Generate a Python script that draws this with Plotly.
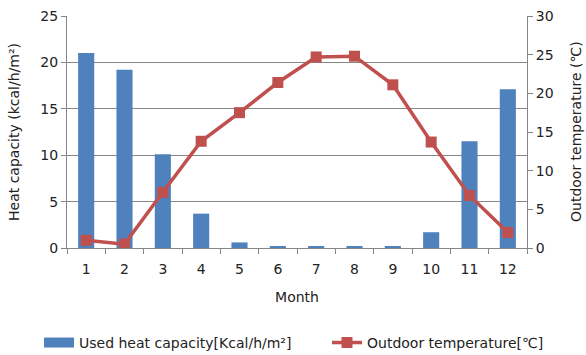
import plotly.graph_objects as go

months = ["1", "2", "3", "4", "5", "6", "7", "8", "9", "10", "11", "12"]
heat_capacity = [21.0, 19.2, 10.1, 3.7, 0.6, 0.15, 0.15, 0.15, 0.15, 1.7, 11.5, 17.1]
outdoor_temp = [1.0, 0.5, 7.2, 13.8, 17.5, 21.4, 24.7, 24.8, 21.1, 13.7, 6.8, 2.0]

left_ticks = [0, 5, 10, 15, 20, 25]
right_ticks = [0, 5, 10, 15, 20, 25, 30]

FONT = "DejaVu Sans"
FS = 14
GRAY = "#868686"
BLUE = "#4F81BD"
RED = "#C0504D"
BAR_LABEL = "Used heat capacity[Kcal/h/m²]"
LINE_LABEL = "Outdoor temperature[℃]"
LEFT_TITLE = "Heat capacity (kcal/h/m²)"
RIGHT_TITLE = "Outdoor temperature (℃)"

W, H = 586, 355

fig = go.Figure()
fig.add_trace(go.Bar(
    x=months, y=heat_capacity, name=BAR_LABEL,
    marker=dict(color=BLUE, line=dict(width=0)), width=0.42, yaxis="y",
    showlegend=False,
))
# wide swatch for the bar series key
fig.add_trace(go.Scatter(
    x=[None], y=[None], name=BAR_LABEL, mode="lines",
    line=dict(color=BLUE, width=14), legend="legend",
))
fig.add_trace(go.Scatter(
    x=months, y=outdoor_temp, name=LINE_LABEL, mode="lines+markers",
    line=dict(color=RED, width=3.5),
    marker=dict(symbol="square", size=11, color=RED),
    yaxis="y2", legend="legend2",
))

legend_common = dict(
    xref="container", yref="container", xanchor="left", yanchor="middle",
    y=0.034, font=dict(size=FS), bgcolor="rgba(0,0,0,0)", itemwidth=30,
)

fig.update_layout(
    width=W, height=H,
    margin=dict(l=67, r=59, t=16, b=107, autoexpand=False),
    plot_bgcolor="white", paper_bgcolor="white",
    font=dict(family=FONT, size=FS, color="#222222"),
    showlegend=True,
    legend=dict(x=39 / W, **legend_common),
    legend2=dict(x=327 / W, **legend_common),
    xaxis=dict(
        type="category", range=[-0.5, 11.5],
        showgrid=False, showline=True, linecolor=GRAY, linewidth=1,
        ticks="outside", tickson="boundaries", ticklen=5, tickcolor=GRAY,
        ticklabelstandoff=8,
        title=dict(text="Month", font=dict(size=FS), standoff=16),
        tickfont=dict(size=FS),
    ),
    yaxis=dict(
        range=[0, 25], tickvals=left_ticks, showgrid=True, gridcolor=GRAY, gridwidth=1,
        showline=True, linecolor=GRAY, ticks="outside", ticklen=5, tickcolor=GRAY,
        zeroline=False, tickfont=dict(size=FS),
    ),
    yaxis2=dict(
        range=[0, 30], tickvals=right_ticks, overlaying="y", side="right",
        showgrid=False, showline=True, linecolor=GRAY, ticks="outside", ticklen=5,
        tickcolor=GRAY, zeroline=False, tickfont=dict(size=FS),
    ),
    annotations=[
        dict(text=LEFT_TITLE, textangle=-90, xref="paper", yref="paper",
             x=(14 - 67) / (W - 67 - 59), y=0.5, xanchor="center", yanchor="middle",
             showarrow=False, font=dict(size=FS)),
        dict(text=RIGHT_TITLE, textangle=-90, xref="paper", yref="paper",
             x=1 + (576 - (W - 59)) / (W - 67 - 59), y=0.5, xanchor="center",
             yanchor="middle", showarrow=False, font=dict(size=FS)),
    ],
)

fig.write_html("out.html")
